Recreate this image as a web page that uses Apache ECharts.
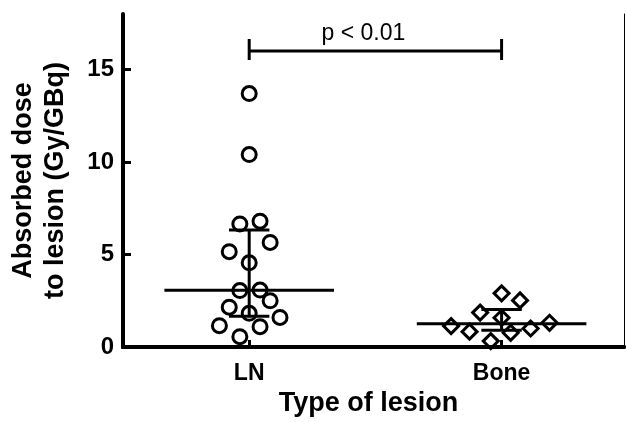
<!DOCTYPE html>
<html>
<head>
<meta charset="UTF-8">
<title>Absorbed dose to lesion</title>
<style>
  html, body { margin: 0; padding: 0; background: #fff; }
  #container { width: 626px; height: 422px; }
</style>
</head>
<body>
<div id="container"></div>
<script src="https://cdn.jsdelivr.net/npm/echarts@6/dist/echarts.min.js"></script>
<script>
// lesion types, drawn at x = 1 and x = 2
var categories = ['LN', 'Bone'];
// single lesions: dose values and horizontal jitter around the group centre
var lnValues = [13.7, 10.4, 6.65, 6.8, 5.65, 5.15, 4.55, 3.05, 3.08, 2.5, 2.15, 1.82, 1.6, 1.15, 1.1, 0.56];
var lnJitter = [0, 0, -0.037, 0.043, 0.083, -0.079, 0, -0.037, 0.043, 0.083, -0.079, 0, 0.122, -0.118, 0.043, -0.037];
var boneValues = [2.9, 2.52, 1.86, 1.58, 1.13, 1.31, 1.0, 0.83, 0.77, 0.32];
var boneJitter = [0, 0.073, -0.085, 0, -0.2, 0.19, 0.115, -0.127, 0.036, -0.043];
// median and interquartile range of each group
var medians = [3.07, 1.26];
var q1 = [1.66, 0.9];
var q3 = [6.33, 2.03];
// significance bracket
var bracketLevel = 16;
var pText = 'p < 0.01';
var yTicks = [0, 5, 10, 15];

var FONT = "'Liberation Sans', Arial, Helvetica, sans-serif";

function points(values, jitter, centre) {
    var out = [];
    for (var i = 0; i < values.length; i++) {
        out.push([centre + jitter[i], values[i]]);
    }
    return out;
}

var summary = [];
for (var g = 0; g < categories.length; g++) {
    summary.push([g + 1, medians[g], q1[g], q3[g]]);
}

function seg(a, b, style) {
    return {type: 'line', shape: {x1: a[0], y1: a[1], x2: b[0], y2: b[1]}, style: style};
}

// median line + IQR bar
function renderSummary(params, api) {
    var x = api.value(0), med = api.value(1), lo = api.value(2), hi = api.value(3);
    var st = {stroke: '#000', lineWidth: 3};
    return {
        type: 'group',
        children: [
            seg(api.coord([x - 0.336, med]), api.coord([x + 0.336, med]), st),
            seg(api.coord([x - 0.08, hi]), api.coord([x + 0.08, hi]), st),
            seg(api.coord([x - 0.08, lo]), api.coord([x + 0.08, lo]), st),
            seg(api.coord([x, hi]), api.coord([x, lo]), st)
        ]
    };
}

function renderBracket(params, api) {
    var a = api.coord([api.value(0), api.value(2)]);
    var b = api.coord([api.value(1), api.value(2)]);
    var st = {stroke: '#000', lineWidth: 3};
    return {
        type: 'group',
        children: [
            seg(a, b, st),
            seg([a[0], a[1] - 12], [a[0], a[1] + 9], st),
            seg([b[0], b[1] - 12], [b[0], b[1] + 9], st),
            {
                type: 'text',
                style: {
                    x: (a[0] + b[0]) / 2 - 12,
                    y: a[1] - 17.5,
                    text: pText,
                    fill: '#000',
                    font: "23px " + FONT,
                    align: 'center',
                    verticalAlign: 'middle'
                }
            }
        ]
    };
}

var chart = echarts.init(document.getElementById('container'));
var option = {
    animation: false,
    backgroundColor: '#fff',
    grid: {left: 122, right: 2, top: 14, bottom: 74},
    xAxis: [{
        type: 'value',
        min: 0.5,
        max: 2.485,
        name: 'Type of lesion',
        nameLocation: 'middle',
        nameGap: 43,
        nameMoveOverlap: false,
        nameTextStyle: {fontSize: 27, fontWeight: 'bold', color: '#000', fontFamily: FONT, padding: [0, 10, 0, 0]},
        axisLine: {lineStyle: {color: '#000', width: 4}},
        axisTick: {inside: true, length: 7, lineStyle: {color: '#000', width: 3}, customValues: [1, 2]},
        axisLabel: {
            customValues: [1, 2],
            margin: 15,
            fontSize: 23,
            fontWeight: 'bold',
            color: '#000',
            fontFamily: FONT,
            formatter: function (v) { return categories[Math.round(v) - 1]; }
        },
        splitLine: {show: false}
    }, {
        type: 'value',
        position: 'top',
        min: 0.5,
        max: 2.485,
        axisLine: {lineStyle: {color: '#000', width: 4}},
        axisTick: {show: false},
        axisLabel: {show: false},
        splitLine: {show: false}
    }],
    yAxis: [{
        type: 'value',
        min: 0,
        max: 18,
        name: 'Absorbed dose\nto lesion (Gy/GBq)',
        nameLocation: 'middle',
        nameGap: 51,
        nameRotate: 90,
        nameMoveOverlap: false,
        nameTextStyle: {fontSize: 27, fontWeight: 'bold', color: '#000', fontFamily: FONT, lineHeight: 32},
        axisLine: {lineStyle: {color: '#000', width: 4}},
        axisTick: {inside: true, length: 8, lineStyle: {color: '#000', width: 3}, customValues: [5, 10, 15]},
        axisLabel: {customValues: yTicks, margin: 9, fontSize: 24, fontWeight: 'bold', color: '#000', fontFamily: FONT},
        splitLine: {show: false}
    }, {
        type: 'value',
        position: 'right',
        min: 0,
        max: 18,
        axisLine: {show: true, lineStyle: {color: '#000', width: 1}},
        axisTick: {show: false},
        axisLabel: {show: false},
        splitLine: {show: false}
    }],
    series: [{
        name: 'LN',
        type: 'scatter',
        symbol: 'circle',
        symbolSize: 14,
        itemStyle: {color: 'rgba(255,255,255,0)', borderColor: '#000', borderWidth: 3, opacity: 1},
        data: points(lnValues, lnJitter, 1)
    }, {
        name: 'Bone',
        type: 'scatter',
        symbol: 'diamond',
        symbolSize: 15,
        itemStyle: {color: 'rgba(255,255,255,0)', borderColor: '#000', borderWidth: 3, opacity: 1},
        data: points(boneValues, boneJitter, 2)
    }, {
        type: 'custom',
        renderItem: renderSummary,
        data: summary,
        z: 3,
        silent: true
    }, {
        type: 'custom',
        renderItem: renderBracket,
        data: [[1, 2, bracketLevel]],
        z: 3,
        silent: true,
        clip: false
    }]
};
chart.setOption(option);
</script>
</body>
</html>
